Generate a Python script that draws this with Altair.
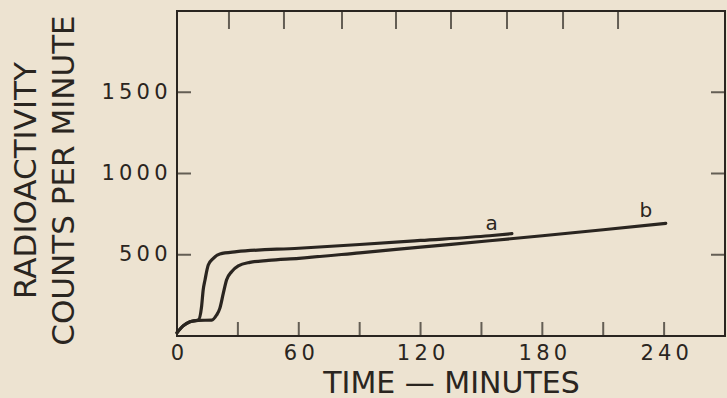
import altair as alt
import pandas as pd

# ---- data ----
time_a = [0, 3, 6.4, 10.5, 12.1, 12.9, 13.8, 15.4, 17.9, 21.1, 29.4, 60, 90, 120, 154, 165]
counts_a = [20, 62, 88, 98, 180, 283, 345, 437, 478, 505, 519, 540, 563, 588, 617, 630]

time_b = [0, 3, 6.4, 10.5, 17.1, 19.5, 21.1, 22.8, 24.4, 26.9, 30.2, 35.9, 45, 60, 90, 120, 154, 180, 210, 240.8]
counts_b = [20, 62, 88, 96, 98, 129, 170, 262, 345, 396, 431, 453, 465, 478, 512, 547, 586, 617, 654, 693]

x_label_values = [0, 60, 120, 180, 240]
y_label_values = [500, 1000, 1500]
bottom_tick_values = [30, 60, 90, 120, 150, 180, 210, 240]
top_tick_values = [25.6, 52.7, 81.3, 107.9, 135.0, 162.6, 190.2, 217.3]
side_tick_values = [500, 1000, 1500]

curve_names = ["a", "b"]
label_x = [155, 231]
label_y = [652, 732]

INK = "#2a2520"
BG = "#ede3d1"
FONT = "DejaVu Sans"

curves = pd.concat([
    pd.DataFrame({"time": time_a, "counts": counts_a, "series": "a"}),
    pd.DataFrame({"time": time_b, "counts": counts_b, "series": "b"}),
])

spaced = "join(split(datum.label, ''), '\u2009')"

x_enc = alt.X(
    "time:Q",
    scale=alt.Scale(domain=[0, 270], nice=False, zero=False),
    axis=alt.Axis(
        values=x_label_values, format="d", title="TIME  \u2014  MINUTES", domain=False, ticks=False,
        tickSize=0, grid=False, labelFontSize=21, labelPadding=6, labelBaseline="top",
        labelExpr=spaced, labelFlush=False, labelOverlap=False,
        titleFontSize=30, titleFontWeight="normal", titleX=274, titleY=56,
        titleBaseline="alphabetic", titleAlign="center",
    ),
)
y_enc = alt.Y(
    "counts:Q",
    scale=alt.Scale(domain=[0, 2000], nice=False),
    axis=alt.Axis(
        values=y_label_values, format="d", title=["RADIOACTIVITY", "COUNTS PER MINUTE"], domain=False,
        ticks=False, tickSize=0, grid=False, labelFontSize=21, labelPadding=10,
        labelExpr=spaced, labelOverlap=False,
        titleFontSize=31, titleFontWeight="normal", titleAngle=270, titleX=-166, titleY=169,
        titleBaseline="top", titleAlign="center", titleLineHeight=38,
    ),
)

lines = alt.Chart(curves).mark_line(
    color=INK, strokeWidth=3.2, interpolate="monotone", strokeCap="round"
).encode(x=x_enc, y=y_enc, detail="series:N")

bottom_ticks = alt.Chart(pd.DataFrame({"time": bottom_tick_values})).mark_tick(
    orient="vertical", size=14, thickness=2, yOffset=-7, color=INK
).encode(x="time:Q", y=alt.datum(0))

top_ticks = alt.Chart(pd.DataFrame({"time": top_tick_values})).mark_tick(
    orient="vertical", size=18, thickness=2, yOffset=9, color=INK
).encode(x="time:Q", y=alt.datum(2000))

left_ticks = alt.Chart(pd.DataFrame({"counts": side_tick_values})).mark_tick(
    orient="horizontal", size=14, thickness=2, xOffset=7, color=INK
).encode(x=alt.datum(0), y="counts:Q")

right_ticks = alt.Chart(pd.DataFrame({"counts": side_tick_values})).mark_tick(
    orient="horizontal", size=14, thickness=2, xOffset=-7, color=INK
).encode(x=alt.datum(270), y="counts:Q")

labels = alt.Chart(pd.DataFrame({"time": label_x, "counts": label_y, "name": curve_names})).mark_text(
    font=FONT, fontSize=20, color=INK, baseline="alphabetic", align="center"
).encode(x="time:Q", y="counts:Q", text="name:N")

chart = alt.layer(lines, bottom_ticks, top_ticks, left_ticks, right_ticks, labels).properties(
    width=548, height=325,
    padding={"left": 177, "top": 11, "right": 2, "bottom": 62},
    autosize=alt.AutoSizeParams(type="none"),
    background=BG,
).configure_view(
    stroke=INK, strokeWidth=2
).configure_axis(
    labelFont=FONT, titleFont=FONT, labelColor=INK, titleColor=INK
)

chart.save("out.html", embed_options={"renderer": "svg", "actions": False})
